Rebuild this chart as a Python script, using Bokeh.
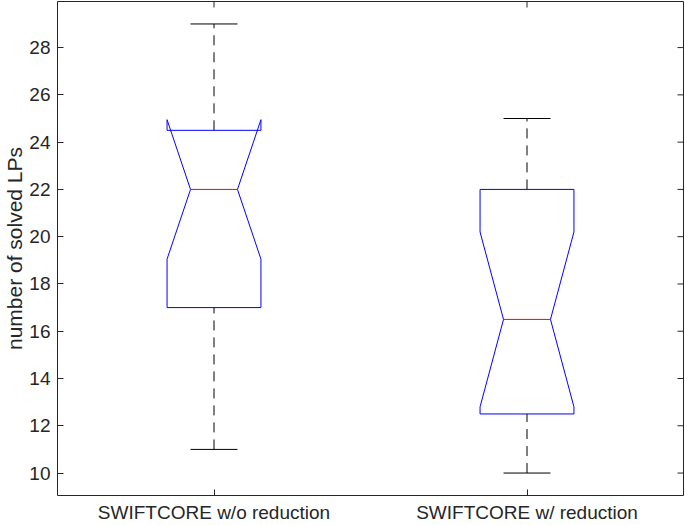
import math
from bokeh.plotting import figure
from bokeh.models import Range1d, LinearAxis, FixedTicker
from bokeh.embed import file_html
from bokeh.resources import INLINE

# ---- data ----
categories = ["SWIFTCORE w/o reduction", "SWIFTCORE w/ reduction"]
positions = [1, 2]
lower_whisker = [11, 10]
q1 = [17, 12.5]
median = [22, 16.5]
q3 = [24.5, 22]
upper_whisker = [29, 25]
notch_lo = [19.05, 12.8]
notch_hi = [24.95, 20.2]
y_ticks = [10, 12, 14, 16, 18, 20, 22, 24, 26, 28]

# ---- style ----
BOX_HW = 0.15
NOTCH_HW = 0.075
CAP_HW = 0.075
AX_COLOR = "#262626"
FONT = "Liberation Sans"
X0, X1 = 0.5, 2.5
Y0, Y1 = 9.05, 29.95
TICK_LEN = 6

p = figure(width=685, height=525, output_backend="svg", toolbar_location=None,
           x_range=Range1d(X0, X1), y_range=Range1d(Y0, Y1),
           min_border_left=56, min_border_right=2, min_border_top=1, min_border_bottom=28,
           x_axis_location=None, y_axis_location=None)
p.xgrid.visible = False
p.ygrid.visible = False
p.outline_line_color = AX_COLOR
p.outline_line_width = 1
p.background_fill_color = "white"
p.border_fill_color = "white"


def style_axis(ax):
    ax.axis_line_color = None
    ax.major_tick_line_color = AX_COLOR
    ax.major_tick_in = TICK_LEN
    ax.major_tick_out = 0
    ax.minor_tick_line_color = None
    ax.major_label_text_font = FONT
    ax.major_label_text_color = AX_COLOR
    ax.major_label_text_font_size = "19px"


# bottom axis with category names
bottom = LinearAxis(ticker=FixedTicker(ticks=positions),
                    major_label_overrides={pos: c for pos, c in zip(positions, categories)})
style_axis(bottom)
bottom.major_label_standoff = 6
p.add_layout(bottom, "below")

# left axis (tick labels + axis label)
left = LinearAxis(ticker=FixedTicker(ticks=y_ticks), axis_label="number of solved LPs")
style_axis(left)
left.major_label_standoff = 7
left.axis_label_text_font = FONT
left.axis_label_text_font_size = "21px"
left.axis_label_text_font_style = "normal"
left.axis_label_text_color = AX_COLOR
left.axis_label_standoff = 0
p.add_layout(left, "left")

# inward ticks on the right and top edges (no labels there)
p.ray(x=[X1] * len(y_ticks), y=y_ticks, length=TICK_LEN, length_units="screen",
      angle=math.pi, line_color=AX_COLOR, line_width=1)
p.ray(x=positions, y=[Y1] * len(positions), length=TICK_LEN, length_units="screen",
      angle=-math.pi / 2, line_color=AX_COLOR, line_width=1)

# ---- notched boxes ----
xs, ys = [], []
for x, a, nl, m, nh, b in zip(positions, q1, notch_lo, median, notch_hi, q3):
    xs.append([x - BOX_HW, x + BOX_HW, x + BOX_HW, x + NOTCH_HW, x + BOX_HW, x + BOX_HW,
               x - BOX_HW, x - BOX_HW, x - NOTCH_HW, x - BOX_HW, x - BOX_HW])
    ys.append([a, a, nl, m, nh, b, b, nh, m, nl, a])
p.multi_line(xs=xs, ys=ys, line_color="#0000FF", line_width=1)

# whiskers (dashed)
p.segment(x0=positions, y0=q3, x1=positions, y1=upper_whisker,
          line_color="black", line_width=1, line_dash="10 7")
p.segment(x0=positions, y0=lower_whisker, x1=positions, y1=q1,
          line_color="black", line_width=1, line_dash="10 7")

# caps
p.segment(x0=[x - CAP_HW for x in positions], y0=upper_whisker,
          x1=[x + CAP_HW for x in positions], y1=upper_whisker,
          line_color="black", line_width=1)
p.segment(x0=[x - CAP_HW for x in positions], y0=lower_whisker,
          x1=[x + CAP_HW for x in positions], y1=lower_whisker,
          line_color="black", line_width=1)

# medians (drawn last so they sit on top of the box outline)
p.segment(x0=[x - NOTCH_HW for x in positions], y0=median,
          x1=[x + NOTCH_HW for x in positions], y1=median,
          line_color="#FF0000", line_width=1)

open("out.html", "w").write(file_html(p, INLINE))
